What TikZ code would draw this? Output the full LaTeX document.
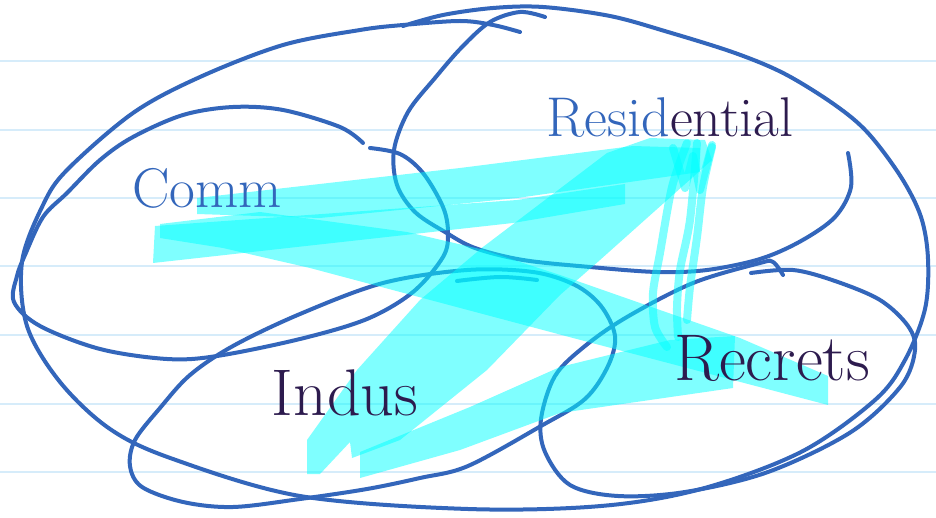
\documentclass[tikz,border=0pt]{standalone}
\usepackage{xcolor}
\usepackage{tikz}
\usetikzlibrary{positioning}
\definecolor{penblue}{RGB}{51,102,187}
\definecolor{penplum}{RGB}{45,27,78}
\definecolor{ruled}{RGB}{214,236,250}
\definecolor{marker}{RGB}{0,255,255}

\begin{document}
\begin{tikzpicture}[x=1pt,y=-1pt,
  ring/.style={penblue,line width=4pt,line cap=round,line join=round},
  hilite/.style={fill=marker,fill opacity=0.5},
  hiline/.style={draw=marker,draw opacity=0.5,line width=8pt,line cap=round,line join=round},
  lbl/.style={font=\fontsize{56}{60}\selectfont,inner sep=0pt,anchor=base},
  biglbl/.style={lbl,font=\fontsize{66}{70}\selectfont}]
\useasboundingbox (0,0) rectangle (936,518);
\fill[white] (0,0) rectangle (936,518);
% ruled paper
\foreach \y in {61,130,198,266,335,404,472}{
  \draw[ruled,line width=1.5pt] (0,\y) -- (936,\y);
}
% the whole market, then the four sectors
\draw[ring] plot[smooth,tension=0.55] coordinates {(403,26) (443,15) (493,8) (543,7) (610,16) (668,32) (735,53) (785,74) (835,105) (868,133) (901,177) (921,217) (928,259) (925,309) (905,360) (875,400) (801,452) (701,489) (601,506) (468,509) (300,496) (173,459) (110,429) (60,382) (27,326) (22,262) (43,205) (67,170) (133,113) (200,77) (283,45) (360,30) (403,25) (460,21) (493,25) (520,32)};
\draw[ring] plot[smooth,tension=0.55] coordinates {(370,148) (400,154) (423,173) (443,207) (448,233) (443,257) (413,292) (367,319) (300,339) (217,356) (167,359) (100,349) (40,326) (14,302) (17,276) (25,255) (43,217) (67,193) (100,160) (133,137) (183,115) (233,107) (283,110) (340,127) (363,143)};
\draw[ring] plot[smooth,tension=0.55] coordinates {(545,17) (520,12) (490,22) (462,47) (435,78) (408,112) (394,150) (397,185) (415,212) (445,232) (475,248) (523,260) (590,267) (657,272) (707,270) (760,259) (801,241) (835,217) (851,187) (848,153)};
\draw[ring] plot[smooth cycle,tension=0.55] coordinates {(467,270) (383,283) (300,314) (233,346) (190,375) (160,408) (135,440) (130,466) (142,487) (183,502) (233,507) (300,499) (367,489) (420,478) (468,466) (541,426) (585,399) (608,366) (615,336) (601,306) (575,285) (533,272)};
\draw[ring] plot[smooth,tension=0.6] coordinates {(457,281) (500,277) (537,280)};
\draw[ring] plot[smooth,tension=0.55] coordinates {(751,273) (793,270) (835,281) (880,300) (908,326) (915,350) (901,386) (851,432) (768,472) (685,492) (618,496) (570,485) (545,452) (541,419) (555,376) (585,346) (627,317) (693,283) (760,263) (773,262) (783,275)};
% highlighter strokes between the sectors
\fill[hilite] (197,198) -- (460,168) -- (633,146) -- (700,148) -- (700,172) -- (517,198) -- (320,218) -- (197,214) -- cycle;
\fill[hilite] (155,226) -- (517,200) -- (625,184) -- (625,204) -- (513,223) -- (153,263) -- cycle;
\fill[hilite] (160,224) -- (260,212) -- (407,232) -- (480,249) -- (560,275) -- (740,338) -- (828,376) -- (828,405) -- (573,338) -- (310,268) -- (223,248) -- (160,238) -- cycle;
\fill[hilite] (307,474) -- (307,440) -- (357,370) -- (420,300) -- (483,247) -- (607,153) -- (650,138) -- (705,140) -- (712,160) -- (600,260) -- (560,295) -- (487,370) -- (400,440) -- (352,458) -- (350,442) -- (320,474) -- cycle;
\fill[hilite] (360,452) -- (470,407) -- (560,367) -- (670,340) -- (735,336) -- (733,388) -- (560,413) -- (460,450) -- (360,478) -- cycle;
\draw[hiline] plot[smooth] coordinates {(687,143) (672,187) (660,253) (653,293) (655,327) (667,347)};
\draw[hiline] plot[smooth] coordinates {(697,143) (690,220) (680,270) (677,307) (678,337)};
\draw[hiline] plot[smooth] coordinates {(712,147) (703,187) (697,237) (690,287) (687,320)};
\draw[hiline] (673,148) -- (685,188) -- (693,156) -- (700,190) -- (712,145);
% labels
\node[lbl,penblue] (comm) at (207,208) {Comm};
\node[lbl] (resid) at (670,137) {\textcolor{penblue}{Resid}\textcolor{penplum}{ential}};
\node[biglbl,penplum] (indus) at (345,415) {Indus};
\node[biglbl,penplum] (recr) at (772,380) {Recrets};
\end{tikzpicture}
\end{document}
